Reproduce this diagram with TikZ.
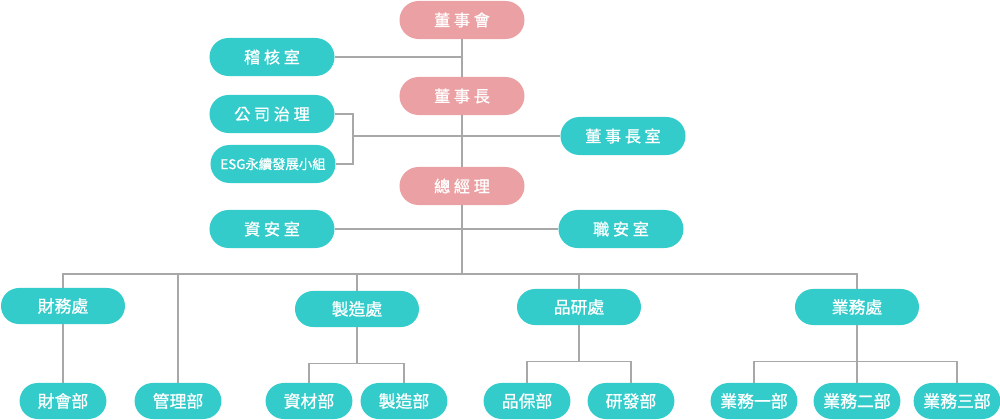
\documentclass[tikz,border=0pt]{standalone}
\usepackage{fontspec}
\newfontfamily\cjk[FakeBold=0.9]{Noto Sans CJK TC}
\definecolor{boardpink}{HTML}{EBA1A4}
\definecolor{deptteal}{HTML}{34CCCB}
\definecolor{linegray}{HTML}{A8A8A8}
\tikzset{
  chair/.style={fill=boardpink, text=white, inner sep=0pt, minimum width=3.125cm,
    minimum height=0.95cm, rounded corners=0.475cm, font=\cjk\fontsize{11.5}{13}\selectfont},
  office/.style={chair, fill=deptteal},
  div/.style={office, minimum width=3.1cm, minimum height=0.9cm, rounded corners=0.45cm,
    font=\cjk\fontsize{12}{14}\selectfont},
  team/.style={div, minimum width=2.17cm},
  wire/.style={draw=linegray, line width=1.1pt}
}

\begin{document}
\begin{tikzpicture}[x=0.025cm, y=-0.025cm]
    \useasboundingbox (0,0) rectangle (1000,420);

    \node [chair] (bd) at (462,20) {董 事 會};
    \node [chair] (ch) at (462,96) {董 事 長};
    \node [chair] (gm) at (462,186) {總 經 理};

    \node [office] (audit) at (272,57) {稽 核 室};
    \node [office] (gov) at (272,114) {公 司 治 理};
    \node [office, font=\cjk\fontsize{9.5}{11}\selectfont] (esg) at (273,164) {ESG永續發展小組};
    \node [office] (chof) at (623,136) {董 事 長 室};
    \node [office] (infosec) at (272,229) {資 安 室};
    \node [office] (safety) at (621,229) {職 安 室};

    \node [div] (fin) at (63,306) {財務處};
    \node [div] (mfg) at (357,309) {製造處};
    \node [div] (qr) at (579,307) {品研處};
    \node [div] (sales) at (857,307) {業務處};

    \node [team] (acct) at (63,401) {財會部};
    \node [team] (mgmt) at (178,401) {管理部};
    \node [team] (mat) at (309,401) {資材部};
    \node [team] (mfgd) at (404,401) {製造部};
    \node [team] (qa) at (527,401) {品保部};
    \node [team] (rd) at (631,401) {研發部};
    \node [team] (s1) at (754,401) {業務一部};
    \node [team] (s2) at (857,401) {業務二部};
    \node [team] (s3) at (957,401) {業務三部};

    \coordinate (bus) at (462,274);
    \coordinate (brk) at (353,136);

    \draw [wire] (bd) -- (ch);
    \draw [wire] (ch) -- (gm);
    \draw [wire] (gm) -- (bus);
    \draw [wire] (audit) -- (audit -| bd);
    \draw [wire] (gov.east) -| (brk) |- (esg.east);
    \draw [wire] (brk) -- (chof);
    \draw [wire] (infosec) -- (safety);

    \draw [wire] (fin.north) |- (bus) -| (sales.north);
    \foreach \n in {mgmt, mfg, qr} {
        \draw [wire] (\n.north) -- (\n.north |- bus);
    };
    \draw [wire] (fin) -- (acct);

    \foreach \d/\a/\b in {mfg/mat/mfgd, qr/qa/rd, sales/s1/s3} {
        \draw [wire] (\d.south) -- ++(0,36) coordinate (\d-j);
        \draw [wire] (\a.north) |- (\d-j) -| (\b.north);
    };
    \draw [wire] (sales-j) -- (s2);
\end{tikzpicture}
\end{document}
